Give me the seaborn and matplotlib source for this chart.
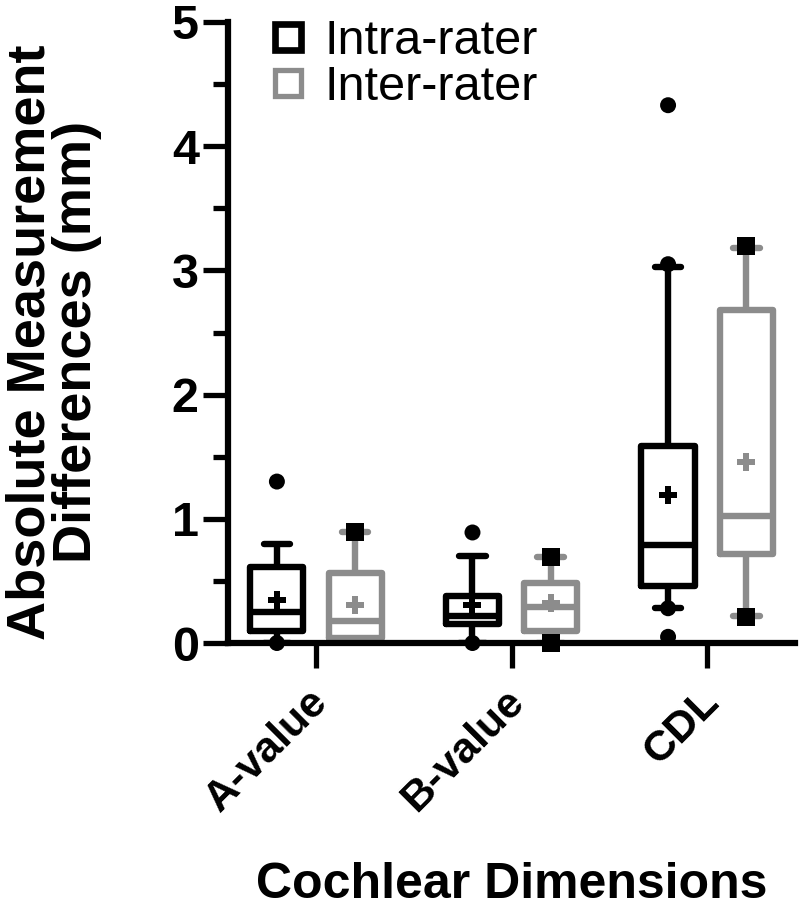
import numpy as np
import pandas as pd
import matplotlib
matplotlib.use("Agg")
import matplotlib.pyplot as plt
from matplotlib.lines import Line2D
from matplotlib.ticker import MultipleLocator
from matplotlib.transforms import ScaledTranslation
import seaborn as sns

# 1. Data
categories = ["A-value", "B-value", "CDL"]
raters = ["Intra-rater", "Inter-rater"]

# box summaries: whisker ends, quartiles, median, mean
intra_low = [0.00, 0.00, 0.28]
intra_q1 = [0.10, 0.15, 0.46]
intra_median = [0.25, 0.22, 0.79]
intra_q3 = [0.61, 0.38, 1.59]
intra_high = [0.80, 0.70, 3.03]
intra_mean = [0.35, 0.31, 1.19]

inter_low = [0.00, 0.00, 0.22]
inter_q1 = [0.04, 0.10, 0.72]
inter_median = [0.18, 0.29, 1.02]
inter_q3 = [0.56, 0.48, 2.68]
inter_high = [0.89, 0.69, 3.18]
inter_mean = [0.31, 0.32, 1.46]

# single points drawn beyond / at the whisker ends
intra_pt_dim = ["A-value", "A-value", "B-value", "B-value", "CDL", "CDL", "CDL", "CDL"]
intra_pt_val = [1.30, 0.00, 0.89, 0.00, 4.33, 3.05, 0.28, 0.05]
inter_pt_dim = ["A-value", "B-value", "B-value", "CDL", "CDL"]
inter_pt_val = [0.89, 0.69, 0.00, 3.20, 0.21]

GRAY = "#8c8c8c"

# 2. Tables for seaborn
rows = []
for rater, stats in [
    ("Intra-rater", [intra_low, intra_q1, intra_median, intra_q3, intra_high]),
    ("Inter-rater", [inter_low, inter_q1, inter_median, inter_q3, inter_high]),
]:
    for i, dim in enumerate(categories):
        for s in stats:
            rows.append({"dimension": dim, "rater": rater, "value": s[i]})
box_df = pd.DataFrame(rows)

mean_df = pd.DataFrame({
    "dimension": categories * 2,
    "rater": ["Intra-rater"] * 3 + ["Inter-rater"] * 3,
    "value": intra_mean + inter_mean,
})
intra_pts = pd.DataFrame({"dimension": intra_pt_dim, "rater": "Intra-rater", "value": intra_pt_val})
inter_pts = pd.DataFrame({"dimension": inter_pt_dim, "rater": "Inter-rater", "value": inter_pt_val})

# 3. Plot
sns.set_style("ticks")
plt.rcParams["font.family"] = ["Liberation Sans", "DejaVu Sans"]
for key in ["text.color", "axes.labelcolor", "xtick.color", "ytick.color", "axes.edgecolor"]:
    plt.rcParams[key] = "black"

fig, ax = plt.subplots(figsize=(8, 9.09), dpi=100)
fig.subplots_adjust(left=0.285, right=0.994, bottom=0.2926, top=0.9758)

pal = {"Intra-rater": "black", "Inter-rater": GRAY}
black_pal = {"Intra-rater": "black", "Inter-rater": "black"}

sns.boxplot(data=box_df, x="dimension", y="value", hue="rater",
            order=categories, hue_order=raters, palette=pal, fill=False,
            whis=(0, 100), width=0.8, gap=0.32, linewidth=4.6,
            capprops={"solid_capstyle": "round"},
            legend=False, ax=ax)

sns.stripplot(data=intra_pts, x="dimension", y="value", hue="rater",
              order=categories, hue_order=raters, palette=black_pal,
              dodge=True, jitter=False, marker="o", size=11.5, linewidth=0,
              legend=False, ax=ax, clip_on=False, zorder=5)
sns.stripplot(data=inter_pts, x="dimension", y="value", hue="rater",
              order=categories, hue_order=raters, palette=black_pal,
              dodge=True, jitter=False, marker="s", size=13, linewidth=0,
              legend=False, ax=ax, clip_on=False, zorder=5)
sns.stripplot(data=mean_df, x="dimension", y="value", hue="rater",
              order=categories, hue_order=raters, palette=pal,
              dodge=True, jitter=False, marker="P", size=13, linewidth=0,
              legend=False, ax=ax, zorder=5)

ax.set_ylim(0, 5)
ax.set_xlim(-0.45, 2.45)
ax.yaxis.set_major_locator(MultipleLocator(1))
ax.yaxis.set_minor_locator(MultipleLocator(0.5))
sns.despine(ax=ax)
for side in ["left", "bottom"]:
    ax.spines[side].set_linewidth(4.5)

ax.tick_params(axis="y", which="major", length=18, width=3.8, pad=3, labelsize=35)
ax.tick_params(axis="y", which="minor", length=11, width=3.8)
ax.tick_params(axis="x", which="major", length=18, width=3.8, pad=10)
for lab in ax.get_yticklabels():
    lab.set_fontweight("bold")
ax.set_xticks(range(len(categories)))
ax.set_xticklabels(categories, rotation=45, ha="right", rotation_mode="anchor",
                   fontsize=31, fontweight="bold")
for lab in ax.get_xticklabels():
    lab.set_transform(lab.get_transform() + ScaledTranslation(-0.08, 0, fig.dpi_scale_trans))

ax.set_xlabel("Cochlear Dimensions", fontsize=36, fontweight="bold")
ax.xaxis.set_label_coords(0.5, -0.352)
ax.set_ylabel("Absolute Measurement\nDifferences (mm)", fontsize=39,
              fontweight="bold", linespacing=0.9)
ax.yaxis.set_label_coords(-0.222, 0.485)

handles = [
    Line2D([], [], linestyle="none", marker="s", markersize=19, markerfacecolor="white",
           markeredgecolor="black", markeredgewidth=4.8),
    Line2D([], [], linestyle="none", marker="s", markersize=19, markerfacecolor="white",
           markeredgecolor=GRAY, markeredgewidth=3.8),
]
ax.legend(handles, raters, loc="upper left", bbox_to_anchor=(0.068, 1.005),
          frameon=False, fontsize=35, handlelength=0.9, handletextpad=0.3,
          labelspacing=0.02, borderpad=0, borderaxespad=0)

fig.savefig("out.png", dpi=100)
